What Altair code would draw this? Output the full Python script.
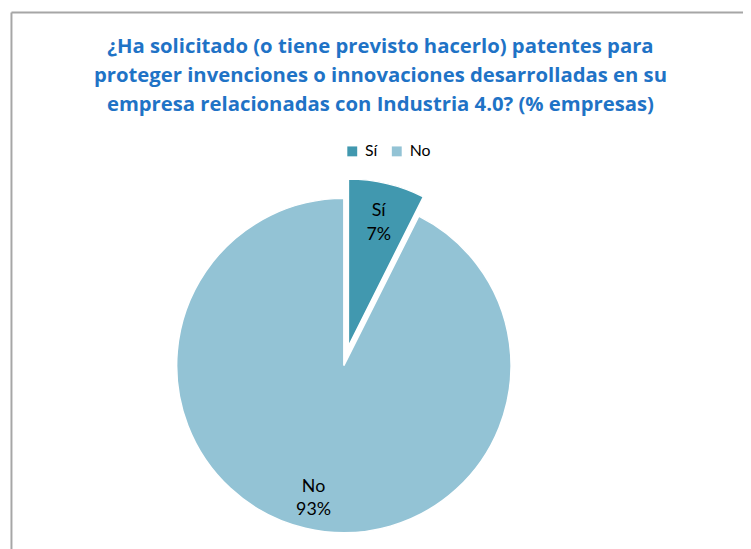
import math
import altair as alt
import pandas as pd

# ---- data ----
categorias = ["Sí", "No"]
porcentajes = [7.4, 92.6]
orden = [0, 1]
colores = ["#4198AF", "#93C3D5"]
titulo = [
    "¿Ha solicitado (o tiene previsto hacerlo) patentes para",
    "proteger invenciones o innovaciones desarrolladas en su",
    "empresa relacionadas con Industria 4.0? (% empresas)",
]

df = pd.DataFrame({"cat": categorias, "pct": porcentajes, "orden": orden})
df["etiqueta"] = [f"{c}\n{round(p)}%" for c, p in zip(categorias, porcentajes)]

# ---- layout ----
CX, CY = 339.5, 358.5
R = 169
EXPLODE = 20
mid = math.radians(porcentajes[0] / sum(porcentajes) * 360 / 2)
DX = EXPLODE * math.sin(mid)
DY = -EXPLODE * math.cos(mid)

FONT = "Lato"
TITLE_FONT = "Open Sans"

base = alt.Chart(df)
theta = alt.Theta("pct:Q", stack=True)
order = alt.Order("orden:Q")
color = alt.Color(
    "cat:N",
    scale=alt.Scale(domain=categorias, range=colores),
    legend=alt.Legend(
        title=None, orient="none", legendX=340, legendY=134,
        direction="horizontal", symbolType="square", symbolSize=100,
        symbolStrokeWidth=0, labelFont=FONT, labelFontSize=16,
        labelColor="black", labelOffset=5, columnPadding=11, padding=0,
    ),
)


def arc_layer(cx, cy, show):
    return base.mark_arc(radius=R, stroke="white", strokeWidth=1.5).encode(
        theta=theta, color=color, order=order,
        x=alt.value(cx), y=alt.value(cy),
        opacity=alt.condition(alt.datum.cat == show, alt.value(1), alt.value(0)),
    )


def text_layer(cx, cy, show):
    return base.mark_text(
        radius=133, font=FONT, fontSize=18, lineBreak="\n", lineHeight=24,
        color="black", align="center", baseline="middle", dy=-7,
    ).encode(
        theta=theta, order=order, detail="cat:N", text="etiqueta:N",
        x=alt.value(cx), y=alt.value(cy),
        opacity=alt.condition(alt.datum.cat == show, alt.value(1), alt.value(0)),
    )


borde = alt.Data(values=[{"a": 1}])
top_rule = alt.Chart(borde).mark_rule(color="#A6A6A6", strokeWidth=2).encode(
    x=alt.value(3.5), x2=alt.value(800), y=alt.value(1.5)
)
left_rule = alt.Chart(borde).mark_rule(color="#A6A6A6", strokeWidth=2).encode(
    x=alt.value(3.5), y=alt.value(1.5), y2=alt.value(600)
)

chart = alt.layer(
    top_rule, left_rule,
    arc_layer(CX, CY, "No"),
    arc_layer(CX + DX, CY + DY, "Sí"),
    text_layer(CX, CY, "No"),
    text_layer(CX + DX, CY + DY, "Sí"),
).properties(
    width=743, height=541,
    autosize=alt.AutoSizeParams(type="none"),
    padding=0,
    background="white",
    title=alt.TitleParams(
        text=titulo, font=TITLE_FONT, fontSize=20.5, fontWeight="bold",
        color="#1F73C6", anchor="middle", lineHeight=29.5, offset=-106, dx=5,
    ),
).configure_view(stroke=None)

chart.save("out.html", embed_options={"renderer": "svg", "actions": False})
